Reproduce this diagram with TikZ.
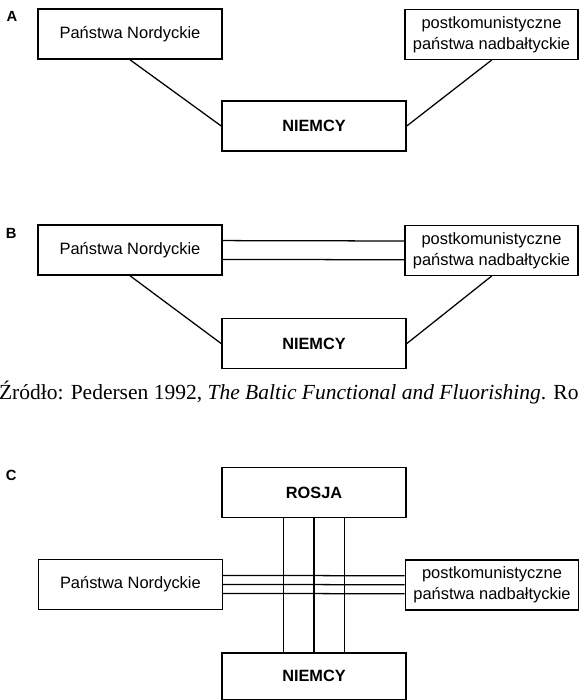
\documentclass[tikz,border=0pt]{standalone}
\usepackage{fontspec}
\setmainfont{Liberation Serif}
\setsansfont{Liberation Sans}
\begin{document}
\begin{tikzpicture}[
  country/.style={draw,line width=1.1pt,minimum width=4.6cm,minimum height=1.25cm,
    align=center,font=\sffamily\fontsize{11.7}{14.9}\selectfont},
  bigcountry/.style={country,font=\sffamily\bfseries\fontsize{11.6}{14}\selectfont},
  panelletter/.style={font=\sffamily\bfseries\fontsize{10.5}{13}\selectfont},
  link/.style={line width=0.9pt}]
\useasboundingbox (0,0) rectangle (14.475,17.5);

\node[panelletter] (labA) at (0.3,17.1) {A};
\node[country] (nordA) at (3.25,16.65) {Państwa Nordyckie};
\node[country,minimum width=4.325cm] (baltA) at (12.2875,16.64)
 {postkomunistyczne\\państwa nadbałtyckie};
\node[bigcountry] (niemA) at (7.85,14.35) {NIEMCY};
\draw[link] (nordA.south) -- (niemA.west);
\draw[link] (baltA.south) -- (niemA.east);

\node[panelletter] (labB) at (0.28,11.67) {B};
\node[country] (nordB) at (3.25,11.25) {Państwa Nordyckie};
\node[country,minimum width=4.325cm] (baltB) at (12.2875,11.24)
 {postkomunistyczne\\państwa nadbałtyckie};
\node[bigcountry] (niemB) at (7.85,8.91) {NIEMCY};
\foreach \s in {-0.235,0.235}
  \draw[link] ([yshift=\s cm]nordB.east) -- ([yshift=\s cm]baltB.west);
\draw[link] (nordB.south) -- (niemB.west);
\draw[link] (baltB.south) -- (niemB.east);

\node[anchor=base west,inner sep=0pt] (src) at (-0.03,7.5)
 {\fontsize{15.3}{18}\selectfont Źródło: Pedersen 1992, \textit{The Baltic Functional and Fluorishing}. Ro};

\node[panelletter] (labC) at (0.28,5.62) {C};
\node[bigcountry] (rosC) at (7.85,5.19) {ROSJA};
\node[country] (nordC) at (3.26,2.89) {Państwa Nordyckie};
\node[country,minimum width=4.325cm] (baltC) at (12.3,2.88)
 {postkomunistyczne\\państwa nadbałtyckie};
\node[bigcountry,minimum height=1.17cm,anchor=north] (niemC) at (7.85,1.2) {NIEMCY};
\foreach \s in {-0.77,0,0.76}
  \draw[link] ([xshift=\s cm]rosC.south) -- ([xshift=\s cm]niemC.north);
\foreach \s in {-0.225,0,0.225}
  \draw[link] ([yshift=\s cm]nordC.east) -- ([yshift=\s cm]baltC.west);
\end{tikzpicture}
\end{document}
